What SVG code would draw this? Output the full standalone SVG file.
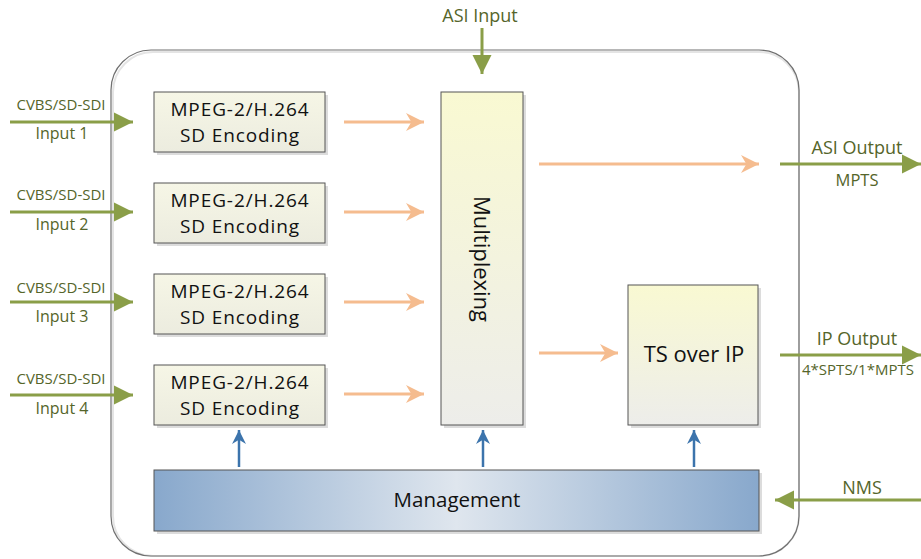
<svg xmlns="http://www.w3.org/2000/svg" width="921" height="559" viewBox="0 0 921 559">
<defs>
<linearGradient id="enc" x1="0" y1="0" x2="0" y2="1"><stop offset="0" stop-color="#f6f6e6"/><stop offset="1" stop-color="#ececdf"/></linearGradient>
<linearGradient id="mux" x1="0" y1="0" x2="0" y2="1"><stop offset="0" stop-color="#f9f9d2"/><stop offset="1" stop-color="#ededea"/></linearGradient>
<linearGradient id="mgmt" x1="0" y1="0" x2="1" y2="0"><stop offset="0" stop-color="#88a8cc"/><stop offset="0.5" stop-color="#dfe6ee"/><stop offset="1" stop-color="#88a8cc"/></linearGradient>
<marker id="mg" viewBox="0 0 10 10" refX="10" refY="5" markerWidth="19" markerHeight="20" markerUnits="userSpaceOnUse" orient="auto"><path d="M0,0 L10,5 L0,10 Z" fill="#8a9e48"/></marker>
<marker id="mo" viewBox="0 0 10 10" refX="10" refY="5" markerWidth="18" markerHeight="18" markerUnits="userSpaceOnUse" orient="auto"><path d="M0,0 L10,5 L0,10 L3,5 Z" fill="#f5bc8f"/></marker>
<marker id="mb" viewBox="0 0 10 10" refX="10" refY="5" markerWidth="18" markerHeight="14" markerUnits="userSpaceOnUse" orient="auto"><path d="M0,0 L10,5 L0,10 L3,5 Z" fill="#3c74ac"/></marker>
</defs>
<style>
.box{stroke:#555;stroke-width:1}
.sh{fill:#dcdcdc}
.t{font-family:"Open Sans","Noto Sans",sans-serif;font-size:20.5px;fill:#111;text-anchor:middle}
.e{font-size:19px;letter-spacing:0.9px}
.lbl{font-family:"Open Sans","Noto Sans",sans-serif;font-size:15px;fill:#55652a;text-anchor:middle}
.big{font-size:18px}
.g{stroke:#8a9e48;stroke-width:3;fill:none;marker-end:url(#mg)}
.o{stroke:#f5bc8f;stroke-width:3;fill:none;marker-end:url(#mo)}
.b{stroke:#3c74ac;stroke-width:2.5;fill:none;marker-end:url(#mb)}
</style>
<rect width="921" height="559" fill="#fff"/>
<g id="frame">
<rect x="113" y="52" width="686" height="504" rx="40" fill="none" stroke="#e4e4e4" stroke-width="2"/>
<rect x="111" y="50" width="688" height="506" rx="40" fill="none" stroke="#707070" stroke-width="1.2"/>
</g>
<g id="enc1"><rect class="sh" x="157" y="95" width="171" height="60"/><rect class="box" x="154" y="92" width="171" height="60" fill="url(#enc)"/><text class="t e" x="240" y="116">MPEG-2/H.264</text><text class="t e" x="240" y="142">SD Encoding</text></g>
<g id="enc2"><rect class="sh" x="157" y="186" width="171" height="60"/><rect class="box" x="154" y="183" width="171" height="60" fill="url(#enc)"/><text class="t e" x="240" y="207">MPEG-2/H.264</text><text class="t e" x="240" y="233">SD Encoding</text></g>
<g id="enc3"><rect class="sh" x="157" y="277" width="171" height="60"/><rect class="box" x="154" y="274" width="171" height="60" fill="url(#enc)"/><text class="t e" x="240" y="298">MPEG-2/H.264</text><text class="t e" x="240" y="324">SD Encoding</text></g>
<g id="enc4"><rect class="sh" x="157" y="368" width="171" height="60"/><rect class="box" x="154" y="365" width="171" height="60" fill="url(#enc)"/><text class="t e" x="240" y="389">MPEG-2/H.264</text><text class="t e" x="240" y="415">SD Encoding</text></g>
<g id="mux"><rect class="sh" x="444" y="95" width="82" height="333"/><rect class="box" x="441" y="92" width="82" height="333" fill="url(#mux)"/><text class="t" transform="translate(474,259) rotate(90)" x="0" y="0" style="font-size:22px">Multiplexing</text></g>
<g id="tsip"><rect class="sh" x="631" y="288" width="130" height="140"/><rect class="box" x="628" y="285" width="130" height="140" fill="url(#mux)"/><text class="t" x="694" y="362" style="font-size:22px">TS over IP</text></g>
<g id="mgmt"><rect class="sh" x="157" y="473" width="605" height="61"/><rect class="box" x="154" y="470" width="605" height="61" fill="url(#mgmt)"/><text class="t" x="457" y="507">Management</text></g>
<g id="connectors">
<path class="g" d="M10,122 H133"/><path class="g" d="M10,212 H133"/><path class="g" d="M10,302 H133"/><path class="g" d="M10,395 H133"/>
<path class="g" d="M482,28 V74"/>
<path class="g" d="M780,164 H921"/><path class="g" d="M780,355 H921"/>
<path class="g" d="M921,500 H775"/>
<path class="o" d="M344,122 H424"/><path class="o" d="M344,212 H424"/><path class="o" d="M344,302 H424"/><path class="o" d="M344,394 H424"/>
<path class="o" d="M539,164 H759"/><path class="o" d="M539,353 H618"/>
<path class="b" d="M239,467 V430"/><path class="b" d="M483,467 V430"/><path class="b" d="M694,467 V430"/>
</g>
<g id="labels">
<text class="lbl" x="61" y="110">CVBS/SD-SDI</text><text class="lbl" x="62" y="139" style="font-size:16px">Input 1</text>
<text class="lbl" x="61" y="200">CVBS/SD-SDI</text><text class="lbl" x="62" y="230" style="font-size:16px">Input 2</text>
<text class="lbl" x="61" y="293">CVBS/SD-SDI</text><text class="lbl" x="62" y="322" style="font-size:16px">Input 3</text>
<text class="lbl" x="61" y="384">CVBS/SD-SDI</text><text class="lbl" x="62" y="414" style="font-size:16px">Input 4</text>
<text class="lbl big" x="480" y="22">ASI Input</text>
<text class="lbl big" x="857" y="154">ASI Output</text><text class="lbl" x="857" y="186" style="font-size:16.5px">MPTS</text>
<text class="lbl big" x="857" y="345">IP Output</text><text class="lbl" x="858" y="375" style="font-size:15px">4*SPTS/1*MPTS</text>
<text class="lbl big" x="862" y="494">NMS</text>
</g>
</svg>
